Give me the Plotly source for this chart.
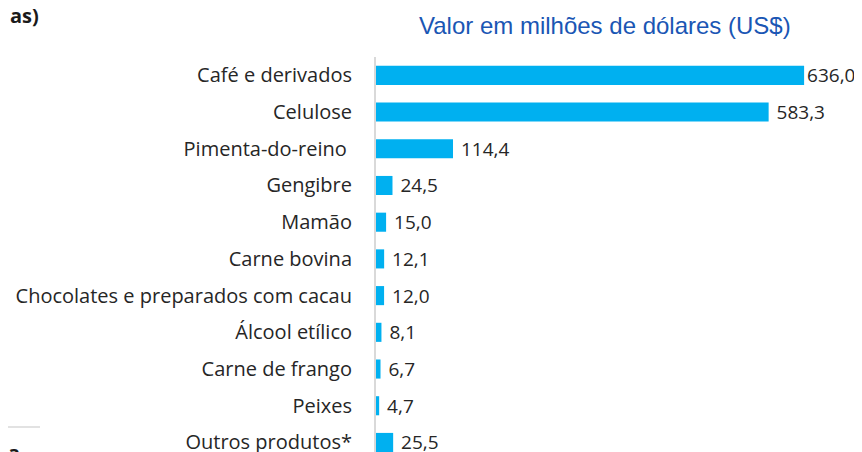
import plotly.graph_objects as go

# produtos exportados e valores (milhões de US$)
produtos = ['Café e derivados', 'Celulose', 'Pimenta-do-reino ', 'Gengibre', 'Mamão',
            'Carne bovina', 'Chocolates e preparados com cacau', 'Álcool etílico',
            'Carne de frango', 'Peixes', 'Outros produtos*']
valores = [636.0, 583.3, 114.4, 24.5, 15.0, 12.1, 12.0, 8.1, 6.7, 4.7, 25.5]
titulo = 'Valor em milhões de dólares (US$)'

# a página tem 8px de margem no body, então a figura é um pouco menor
OFF = 8
W, H = 862 - OFF, 452 - OFF
ML, MT = 376 - OFF, 57 - OFF
pw = W - ML


def px(x):
    # pixel da imagem -> coordenada paper no eixo x
    return (x - OFF - ML) / pw


def py(y):
    return 1 - (y - OFF - MT) / (H - MT)


rotulos = [('' if v == max(valores) else ' ') + f'{v:.1f}'.replace('.', ',') for v in valores]

fig = go.Figure(go.Bar(
    x=valores, y=produtos, orientation='h',
    marker=dict(color='#00b0f0', line=dict(width=0)),
    width=0.52,
    text=rotulos, textposition='outside', cliponaxis=False, constraintext='none',
    textfont=dict(family='Open Sans', size=19, color='#262626'),
))

fig.update_layout(
    width=W, height=H,
    margin=dict(l=ML, r=0, t=MT, b=0, autoexpand=False),
    paper_bgcolor='white', plot_bgcolor='white',
    showlegend=False,
    xaxis=dict(range=[0, 722], visible=False),
    yaxis=dict(range=[10.26, -0.5], showline=True, linecolor='#d9d9d9', linewidth=2,
               ticks='outside', tickcolor='rgba(0,0,0,0)', ticklen=18,
               tickfont=dict(family='Open Sans', size=20, color='#262626'),
               showgrid=False, zeroline=False, automargin=False),
    annotations=[
        dict(text=titulo, xref='paper', yref='paper', x=px(605), y=py(25),
             xanchor='center', yanchor='middle', showarrow=False,
             font=dict(family='Liberation Sans', size=24, color='#1a56b4')),
        dict(text='<b>as)</b>', xref='paper', yref='paper', x=px(8), y=py(16),
             xanchor='left', yanchor='middle', showarrow=False,
             font=dict(family='Open Sans', size=20, color='#1a1a1a')),
        dict(text='<b>a</b>', xref='paper', yref='paper', x=px(6), y=py(437),
             xanchor='left', yanchor='top', showarrow=False,
             font=dict(family='Open Sans', size=20, color='#1a1a1a')),
    ],
    shapes=[dict(type='line', xref='paper', yref='paper', x0=px(8), x1=px(40),
                 y0=py(427), y1=py(427), line=dict(color='#d9d9d9', width=1.5))],
)

fig.write_html('out.html')
